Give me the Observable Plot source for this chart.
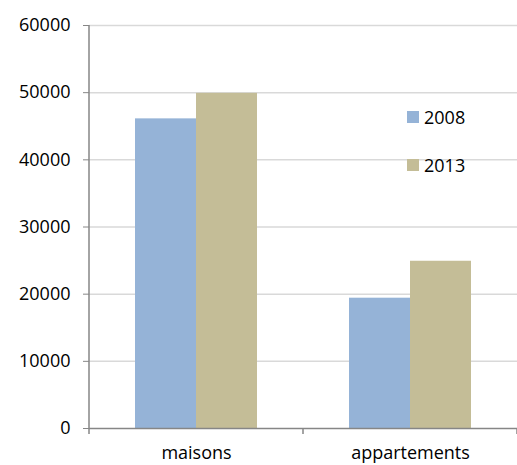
<!DOCTYPE html>
<html><head><meta charset="utf-8">
<script src="https://cdn.jsdelivr.net/npm/d3@7"></script>
<script src="https://cdn.jsdelivr.net/npm/@observablehq/plot@0.6"></script>
<style>
body{margin:0;background:#fff;font-family:"Open Sans",sans-serif}
#wrap{position:relative;width:517px;height:465px}
#legend{position:absolute;left:407px;top:106px;font-size:18px;color:#000;line-height:1}
#legend .item{display:flex;align-items:center;height:22px;margin-bottom:26px}
#legend .sw{width:12px;height:12px;margin-right:5px}
</style></head><body><div id="wrap"><div id="legend"></div></div>
<script>
const categories = ["maisons", "appartements"];
const years = ["2008", "2013"];
const values2008 = [46100, 19400];
const values2013 = [49900, 24900];
const yTicks = [0, 10000, 20000, 30000, 40000, 50000, 60000];
const colors = ["#95b3d7", "#c4bd97"];

const series = [values2008, values2013];
const data = categories.flatMap((c, i) => years.map((y, j) => ({category: c, year: y, value: series[j][i]})));

const chart = Plot.plot({
  width: 517, height: 465,
  marginLeft: 89, marginRight: 0, marginTop: 25, marginBottom: 37,
  style: {fontFamily: "Open Sans", fontSize: "18px", color: "#000", background: "#fff"},
  fx: {domain: categories, padding: 0, label: null},
  x: {domain: years, paddingInner: 0, paddingOuter: 0.73, axis: null},
  y: {domain: [0, 60000], axis: null},
  color: {domain: years, range: colors},
  marks: [
    Plot.ruleY(yTicks.slice(1), {stroke: "#d9d9d9", strokeWidth: 1.5}),
    Plot.barY(data, {fx: "category", x: "year", y: "value", fill: "year", inset: 0}),
    Plot.ruleY([0], {stroke: "#868686", strokeWidth: 1.5}),
    Plot.axisY({ticks: yTicks, tickSize: 6, tickPadding: 13, stroke: "#868686", tickFormat: d3.format("d"), label: null, fontSize: 18}),
    Plot.axisFx({anchor: "bottom", tickSize: 0, tickPadding: 18, label: null, fontSize: 18})
  ]
});

// axis lines and category-boundary ticks using the library's scales
const fx = chart.scale("fx");
const ys = chart.scale("y");
const svg = d3.select(chart.tagName === "svg" ? chart : chart.querySelector("svg"));
const y0 = ys.apply(0), yTop = ys.apply(60000);
const bounds = categories.map(c => fx.apply(c)).concat([fx.apply(categories[categories.length - 1]) + fx.bandwidth]);
const g = svg.append("g").attr("stroke", "#868686").attr("stroke-width", 1.5);
g.append("line").attr("x1", bounds[0]).attr("x2", bounds[0]).attr("y1", yTop).attr("y2", y0 + 6);
bounds.slice(1).forEach(b => g.append("line").attr("x1", b).attr("x2", b).attr("y1", y0).attr("y2", y0 + 6));

document.getElementById("wrap").prepend(chart);
const leg = document.getElementById("legend");
years.forEach((y, i) => {
  const it = document.createElement("div"); it.className = "item";
  const sw = document.createElement("div"); sw.className = "sw"; sw.style.background = colors[i];
  const t = document.createElement("span"); t.textContent = y;
  it.appendChild(sw); it.appendChild(t); leg.appendChild(it);
});
</script></body></html>
